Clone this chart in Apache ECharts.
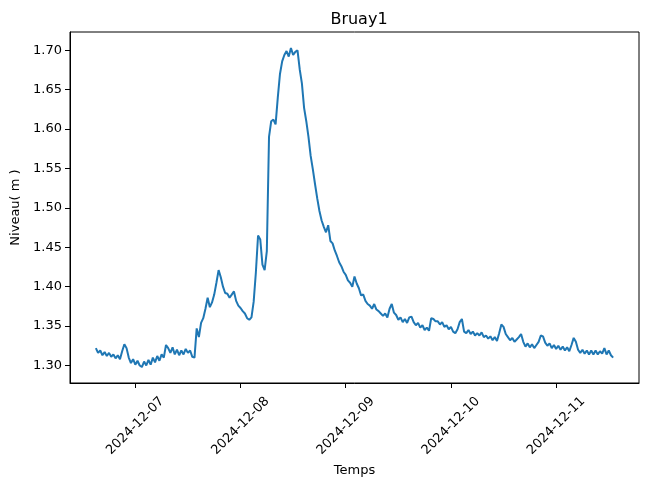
<!DOCTYPE html>
<html>
<head>
<meta charset="utf-8">
<script src="https://cdn.jsdelivr.net/npm/echarts@6/dist/echarts.min.js"></script>
<style>
  html, body { margin: 0; padding: 0; background: #fff; }
  #chart { width: 649px; height: 489px; }
</style>
</head>
<body>
<div id="chart"></div>
<script>
// releves toutes les 30 min, a partir du 2024-12-06 15:00
const startTime = new Date(2024, 11, 6, 15, 0).getTime()
const stepMs = 30 * 60 * 1000

const niveau = [
  1.322, 1.316, 1.319, 1.313, 1.317, 1.312, 1.316, 1.311, 1.314, 1.309, 1.313, 1.308,
  1.318, 1.327, 1.322, 1.310, 1.303, 1.308, 1.301, 1.306, 1.300, 1.298, 1.305, 1.300,
  1.307, 1.301, 1.310, 1.304, 1.312, 1.306, 1.314, 1.310, 1.326, 1.322, 1.316, 1.323,
  1.314, 1.320, 1.313, 1.319, 1.314, 1.321, 1.316, 1.319, 1.311, 1.310, 1.347, 1.336,
  1.354, 1.360, 1.372, 1.386, 1.374, 1.380, 1.390, 1.405, 1.421, 1.412, 1.400, 1.392,
  1.391, 1.386, 1.390, 1.394, 1.382, 1.376, 1.373, 1.369, 1.366, 1.360, 1.358, 1.361,
  1.381, 1.418, 1.465, 1.460, 1.428, 1.421, 1.445, 1.590, 1.610, 1.612, 1.606, 1.640,
  1.670, 1.686, 1.694, 1.699, 1.692, 1.703, 1.694, 1.698, 1.700, 1.676, 1.658, 1.627,
  1.610, 1.590, 1.566, 1.549, 1.530, 1.512, 1.496, 1.484, 1.476, 1.469, 1.478, 1.458,
  1.455, 1.446, 1.439, 1.431, 1.426, 1.419, 1.415, 1.408, 1.405, 1.400, 1.413, 1.404,
  1.398, 1.389, 1.390, 1.382, 1.378, 1.376, 1.372, 1.378, 1.371, 1.369, 1.366, 1.363,
  1.366, 1.361, 1.372, 1.378, 1.367, 1.364, 1.358, 1.361, 1.355, 1.359, 1.354, 1.361,
  1.362, 1.355, 1.351, 1.354, 1.348, 1.351, 1.345, 1.348, 1.344, 1.360, 1.359, 1.356,
  1.356, 1.352, 1.355, 1.349, 1.351, 1.346, 1.349, 1.343, 1.341, 1.346, 1.355, 1.359,
  1.343, 1.341, 1.345, 1.340, 1.343, 1.338, 1.341, 1.338, 1.342, 1.336, 1.338, 1.334,
  1.337, 1.332, 1.336, 1.331, 1.341, 1.352, 1.349, 1.340, 1.336, 1.332, 1.335, 1.330,
  1.333, 1.336, 1.340, 1.330, 1.324, 1.328, 1.323, 1.327, 1.322, 1.326, 1.330, 1.338,
  1.337, 1.329, 1.325, 1.328, 1.322, 1.326, 1.321, 1.325, 1.320, 1.324, 1.319, 1.323,
  1.318, 1.326, 1.335, 1.330, 1.320, 1.316, 1.320, 1.315, 1.319, 1.314, 1.319, 1.314,
  1.319, 1.314, 1.318, 1.315, 1.322, 1.314, 1.319, 1.313, 1.310
]

const xTicks = [
  new Date(2024, 11, 7).getTime(),
  new Date(2024, 11, 8).getTime(),
  new Date(2024, 11, 9).getTime(),
  new Date(2024, 11, 10).getTime(),
  new Date(2024, 11, 11).getTime()
]
const yTicks = [1.30, 1.35, 1.40, 1.45, 1.50, 1.55, 1.60, 1.65, 1.70]

const temps = niveau.map((v, i) => startTime + i * stepMs)
const points = niveau.map((v, i) => [temps[i], v])

// marges 5% comme matplotlib
const tMin = temps[0], tMax = temps[temps.length - 1]
const vMin = Math.min(...niveau), vMax = Math.max(...niveau)
const tPad = (tMax - tMin) * 0.05
const vPad = (vMax - vMin) * 0.05

function pad2 (n) { return n < 10 ? '0' + n : '' + n }
function fmtDate (ms) {
  const d = new Date(ms)
  return d.getFullYear() + '-' + pad2(d.getMonth() + 1) + '-' + pad2(d.getDate())
}

const font = 'DejaVu Sans'
let myChart = echarts.init(document.getElementById('chart'))
let option = {
  animation: false,
  title: {
    text: 'Bruay1',
    left: 354,
    top: 7,
    textAlign: 'center',
    textStyle: { fontFamily: font, fontSize: 16, fontWeight: 'normal', color: '#000' }
  },
  grid: {
    left: 70,
    right: 10,
    top: 32,
    bottom: 106,
    show: true,
    borderColor: '#000',
    borderWidth: 1,
    backgroundColor: '#fff'
  },
  xAxis: {
    type: 'value', // temps en ms
    min: tMin - tPad,
    max: tMax + tPad,
    name: 'Temps',
    nameLocation: 'middle',
    nameGap: 80,
    nameTextStyle: { fontFamily: font, fontSize: 13, color: '#000' },
    axisLine: { lineStyle: { color: '#000', width: 1 } },
    axisTick: { show: true, length: 5, customValues: xTicks, lineStyle: { color: '#000' } },
    axisLabel: {
      customValues: xTicks,
      rotate: 45,
      align: 'center',
      verticalAlign: 'middle',
      margin: 43,
      fontFamily: font,
      fontSize: 13,
      color: '#000',
      formatter: (v) => fmtDate(v)
    },
    splitLine: { show: false }
  },
  yAxis: {
    type: 'value',
    min: vMin - vPad,
    max: vMax + vPad,
    name: 'Niveau( m )',
    nameLocation: 'middle',
    nameGap: 47,
    nameTextStyle: { fontFamily: font, fontSize: 13, color: '#000' },
    axisLine: { show: true, lineStyle: { color: '#000', width: 1 } },
    axisTick: { show: true, length: 5, customValues: yTicks, lineStyle: { color: '#000' } },
    axisLabel: {
      customValues: yTicks,
      margin: 8,
      fontFamily: font,
      fontSize: 13,
      color: '#000',
      formatter: (v) => v.toFixed(2)
    },
    splitLine: { show: false }
  },
  series: [
    {
      type: 'line',
      data: points,
      showSymbol: false,
      lineStyle: { color: '#1f77b4', width: 2 },
      itemStyle: { color: '#1f77b4' }
    }
  ]
}
myChart.setOption(option)
</script>
</body>
</html>
